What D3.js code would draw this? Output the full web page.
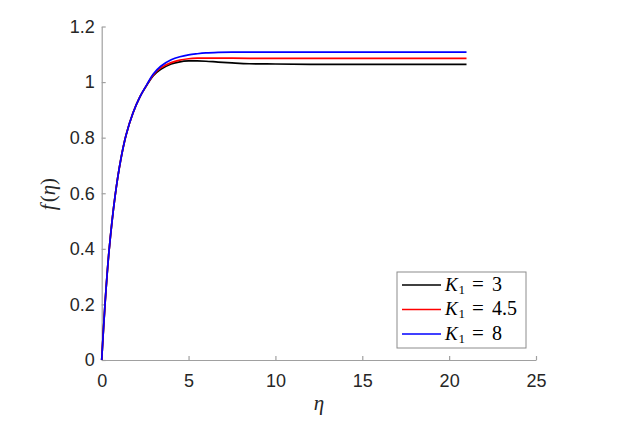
<!DOCTYPE html>
<html><head><meta charset="utf-8">
<script src="https://cdn.jsdelivr.net/npm/d3@7"></script>
<style>body{margin:0;background:#fff}svg{display:block}</style>
</head><body><svg id="c" width="618" height="433"></svg>
<script>
const eta  = [0, 0.19, 0.42, 0.77, 1.1, 1.4, 1.8, 2.2, 2.6, 2.97, 3.4, 4.0, 4.5, 5.0, 5.5, 6.0, 6.7, 7.5, 8.5, 10, 12, 15, 18, 21];
const fK3  = [0, 0.2, 0.391, 0.59, 0.722, 0.809, 0.889, 0.947, 0.989, 1.023, 1.046, 1.065, 1.073, 1.076, 1.076, 1.075, 1.072, 1.069, 1.066, 1.065, 1.064, 1.064, 1.064, 1.064];
const fK45 = [0, 0.2, 0.391, 0.59, 0.722, 0.809, 0.889, 0.947, 0.990, 1.026, 1.051, 1.070, 1.079, 1.084, 1.086, 1.086, 1.086, 1.086, 1.085, 1.085, 1.085, 1.085, 1.085, 1.085];
const fK8  = [0, 0.2, 0.391, 0.59, 0.722, 0.809, 0.889, 0.947, 0.991, 1.029, 1.057, 1.080, 1.091, 1.098, 1.102, 1.105, 1.107, 1.108, 1.108, 1.108, 1.108, 1.108, 1.108, 1.108];
const seriesNames = ["3", "4.5", "8"];
const seriesColors = ["#000000", "#ff0000", "#0000ff"];
const xTicks = [0, 5, 10, 15, 20, 25];
const yTicks = [0, 0.2, 0.4, 0.6, 0.8, 1, 1.2];

const svg = d3.select("#c");
const x = d3.scaleLinear().domain([0, 25]).range([101.7, 536]);
const y = d3.scaleLinear().domain([0, 1.2]).range([360, 26.5]);
const axisCol = "#a0a0a0", textCol = "#262626";

const gx = svg.append("g").attr("transform", "translate(0,360)")
  .call(d3.axisBottom(x).tickValues(xTicks).tickFormat(d3.format("d")).tickSizeInner(-4).tickSizeOuter(0).tickPadding(14));
const gy = svg.append("g").attr("transform", "translate(101.7,0)")
  .call(d3.axisLeft(y).tickValues(yTicks).tickFormat(d => d3.format("")(d)).tickSizeInner(-4).tickSizeOuter(0).tickPadding(7));
[gx, gy].forEach(g => {
  g.select(".domain").attr("stroke", axisCol).attr("stroke-width", 1.2);
  g.selectAll(".tick line").attr("stroke", axisCol).attr("stroke-width", 1.2);
  g.selectAll(".tick text").attr("fill", textCol).attr("font-family", "Liberation Sans, Arial, sans-serif").attr("font-size", 18);
});

const data = [fK3, fK45, fK8];
const line = d3.line().x((d, i) => x(eta[i])).y(d => y(d)).curve(d3.curveCatmullRom.alpha(0.5));
data.forEach((vals, k) => {
  svg.append("path").datum(vals).attr("d", line).attr("fill", "none")
    .attr("stroke", seriesColors[k]).attr("stroke-width", 1.7);
});

// axis labels
svg.append("text").attr("x", 319).attr("y", 410).attr("text-anchor", "middle")
  .attr("font-family", "Liberation Serif, serif").attr("font-style", "italic").attr("font-size", 21).attr("fill", textCol).text("η");
const yl = svg.append("text").attr("transform", "translate(55,194) rotate(-90)").attr("text-anchor", "middle")
  .attr("font-family", "Liberation Serif, serif").attr("font-size", 21).attr("fill", textCol);
yl.append("tspan").attr("font-style", "italic").text("f");
yl.append("tspan").attr("dx", 2).text("(");
yl.append("tspan").attr("font-style", "italic").text("η");
yl.append("tspan").text(")");

// legend
const lg = svg.append("g");
lg.append("rect").attr("x", 397).attr("y", 272).attr("width", 129).attr("height", 76)
  .attr("fill", "#fff").attr("stroke", "#8c8c8c").attr("stroke-width", 1);
seriesNames.forEach((n, k) => {
  const yy = 285 + k * 24.5;
  lg.append("line").attr("x1", 402).attr("x2", 441).attr("y1", yy).attr("y2", yy)
    .attr("stroke", seriesColors[k]).attr("stroke-width", 1.7);
  const t = lg.append("g").attr("font-family", "Liberation Serif, serif").attr("fill", "#000");
  t.append("text").attr("x", 445).attr("y", yy + 5.5).attr("font-size", 19).attr("font-style", "italic").text("K");
  t.append("text").attr("x", 458.5).attr("y", yy + 8.5).attr("font-size", 13).text("1");
  t.append("text").attr("x", 472).attr("y", yy + 5.5).attr("font-size", 21).attr("textLength", 15).text("=");
  t.append("text").attr("x", 492).attr("y", yy + 5.5).attr("font-size", 20).text(n);
});
</script></body></html>
